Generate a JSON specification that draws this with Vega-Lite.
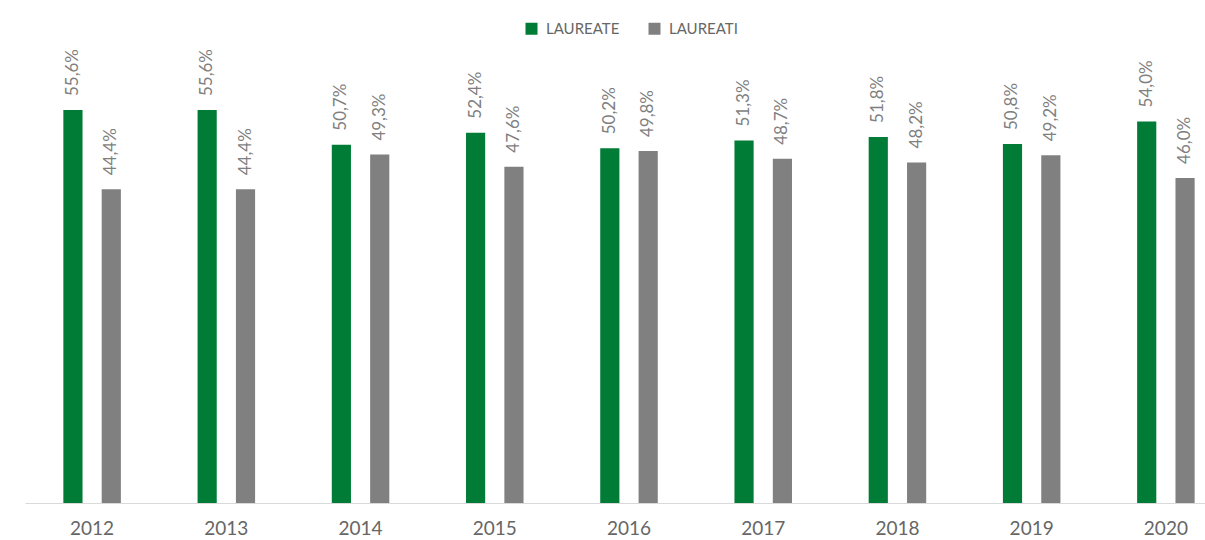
{
  "$schema": "https://vega.github.io/schema/vega-lite/v6.json",
  "width": 1180,
  "height": 424,
  "autosize": {"type": "none"},
  "padding": {"left": 25, "top": 79, "right": 0, "bottom": 37},
  "background": "white",
  "config": {
    "locale": {"number": {"decimal": ",", "thousands": ".", "grouping": [3], "currency": ["", " €"]}},
    "view": {"stroke": null},
    "font": "Lato"
  },
  "data": {
    "values": [
      {"anno": "2012", "genere": "Laureate", "quota": 0.556},
      {"anno": "2012", "genere": "laureati", "quota": 0.444},
      {"anno": "2013", "genere": "Laureate", "quota": 0.556},
      {"anno": "2013", "genere": "laureati", "quota": 0.444},
      {"anno": "2014", "genere": "Laureate", "quota": 0.507},
      {"anno": "2014", "genere": "laureati", "quota": 0.493},
      {"anno": "2015", "genere": "Laureate", "quota": 0.524},
      {"anno": "2015", "genere": "laureati", "quota": 0.476},
      {"anno": "2016", "genere": "Laureate", "quota": 0.502},
      {"anno": "2016", "genere": "laureati", "quota": 0.498},
      {"anno": "2017", "genere": "Laureate", "quota": 0.513},
      {"anno": "2017", "genere": "laureati", "quota": 0.487},
      {"anno": "2018", "genere": "Laureate", "quota": 0.518},
      {"anno": "2018", "genere": "laureati", "quota": 0.482},
      {"anno": "2019", "genere": "Laureate", "quota": 0.508},
      {"anno": "2019", "genere": "laureati", "quota": 0.492},
      {"anno": "2020", "genere": "Laureate", "quota": 0.540},
      {"anno": "2020", "genere": "laureati", "quota": 0.460}
    ]
  },
  "encoding": {
    "x": {
      "field": "anno",
      "type": "nominal",
      "scale": {"range": [0, 1208], "paddingInner": 0, "paddingOuter": 0},
      "axis": {
        "title": null,
        "labelAngle": 0,
        "ticks": false,
        "grid": false,
        "domainColor": "#d9d9d9",
        "domainWidth": 1,
        "labelFontSize": 19,
        "labelColor": "#666666",
        "labelPadding": 16,
        "labelFont": "Lato"
      }
    },
    "xOffset": {
      "field": "genere",
      "type": "nominal",
      "sort": ["Laureate", "laureati"],
      "scale": {"paddingInner": 0.5, "paddingOuter": 1.225}
    },
    "y": {
      "field": "quota",
      "type": "quantitative",
      "scale": {"domain": [0, 0.6]},
      "axis": null
    }
  },
  "layer": [
    {
      "mark": {"type": "bar"},
      "encoding": {
        "color": {
          "field": "genere",
          "type": "nominal",
          "sort": ["Laureate", "laureati"],
          "scale": {"domain": ["Laureate", "laureati"], "range": ["#007C36", "#808080"]},
          "legend": {
            "orient": "none",
            "legendX": 499,
            "legendY": -58,
            "direction": "horizontal",
            "title": null,
            "symbolType": "square",
            "symbolSize": 144,
            "symbolStrokeWidth": 0,
            "labelFontSize": 15,
            "labelColor": "#666666",
            "labelFont": "Lato",
            "labelExpr": "upper(datum.label)",
            "labelOffset": 7,
            "columnPadding": 27
          }
        }
      }
    },
    {
      "mark": {"type": "text", "angle": 270, "align": "left", "baseline": "middle", "dx": 14, "fontSize": 17, "color": "#7f7f7f", "font": "Lato"},
      "encoding": {
        "text": {"field": "quota", "type": "quantitative", "format": ".1%"}
      }
    }
  ]
}
